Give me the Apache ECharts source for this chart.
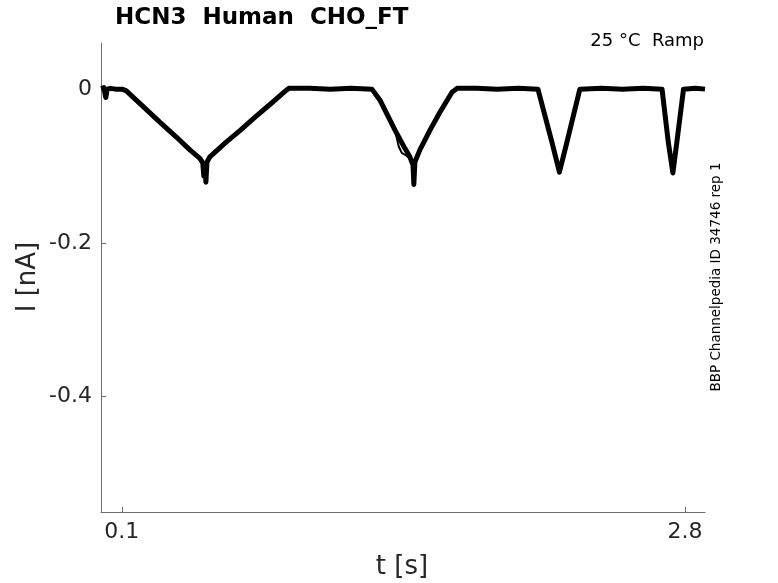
<!DOCTYPE html>
<html>
<head>
<meta charset="utf-8">
<script src="https://cdn.jsdelivr.net/npm/echarts@6/dist/echarts.min.js"></script>
<style>html,body{margin:0;padding:0;background:#fff}#c{width:778px;height:583px}</style>
</head>
<body>
<div id="c"></div>
<script>
// Main current trace: [t (s), I (nA)]
const traceMain = [
  [0.000, 0.001], [0.014, 0.002], [0.023, -0.011], [0.030, 0.000], [0.045, 0.001],
  [0.070, 0.000], [0.100, 0.000], [0.120, -0.002], [0.200, -0.022], [0.282, -0.043],
  [0.360, -0.062], [0.426, -0.079], [0.474, -0.090], [0.488, -0.096], [0.493, -0.113],
  [0.498, -0.098], [0.503, -0.121], [0.508, -0.095], [0.522, -0.088], [0.600, -0.069],
  [0.666, -0.054], [0.740, -0.036], [0.810, -0.020], [0.882, -0.003], [0.900, 0.001],
  [1.000, 0.001], [1.100, 0.000], [1.200, 0.001], [1.299, 0.000], [1.337, -0.014],
  [1.409, -0.053], [1.457, -0.077], [1.481, -0.088], [1.496, -0.099], [1.500, -0.124],
  [1.505, -0.095], [1.529, -0.079], [1.580, -0.052], [1.625, -0.030], [1.683, -0.004],
  [1.707, 0.001], [1.800, 0.001], [1.900, 0.000], [2.000, 0.001], [2.095, 0.000],
  [2.162, -0.069], [2.198, -0.108], [2.234, -0.069], [2.296, 0.000], [2.400, 0.001],
  [2.500, 0.000], [2.600, 0.001], [2.690, 0.000], [2.720, -0.069], [2.742, -0.109],
  [2.761, -0.069], [2.793, 0.000], [2.850, 0.001], [2.896, 0.000]
];
// Second sweep where it departs from the first (second ramp)
const traceAlt = [
  [1.409, -0.053], [1.428, -0.075], [1.442, -0.083], [1.461, -0.086], [1.481, -0.090], [1.496, -0.099]
];
const xTicks = [0.1, 2.8];
const yTicks = [0, -0.2, -0.4];

const chart = echarts.init(document.getElementById('c'));
const FONT = 'DejaVu Sans';
const TXT = '#262626';
chart.setOption({
  animation: false,
  backgroundColor: '#fff',
  grid: { left: 101, right: 73, top: 43, bottom: 71 },
  xAxis: {
    type: 'value', min: 0, max: 2.896,
    axisLine: { onZero: false, lineStyle: { color: '#6e6e6e', width: 1 } },
    axisTick: { inside: true, length: 5, customValues: xTicks, lineStyle: { color: '#6e6e6e' } },
    axisLabel: { customValues: xTicks, color: TXT, fontSize: 22, fontFamily: FONT, margin: 9,
      formatter: v => String(v) },
    splitLine: { show: false }
  },
  yAxis: {
    type: 'value', min: -0.55, max: 0.06,
    axisLine: { show: true, onZero: false, lineStyle: { color: '#6e6e6e', width: 1 } },
    axisTick: { show: true, inside: true, length: 5, customValues: yTicks, lineStyle: { color: '#6e6e6e' } },
    axisLabel: { customValues: yTicks, color: TXT, fontSize: 22, fontFamily: FONT, margin: 9,
      formatter: v => (v === 0 ? '0' : String(v)) },
    splitLine: { show: false }
  },
  series: [
    { type: 'line', data: traceMain, showSymbol: false, symbol: 'none',
      lineStyle: { color: '#000', width: 5, join: 'round' }, z: 3 },
    { type: 'line', data: traceAlt, showSymbol: false, symbol: 'none',
      lineStyle: { color: '#000', width: 2 }, z: 3 }
  ],
  graphic: [
    { type: 'text', x: 115, y: 18, style: { text: 'HCN3  Human  CHO_FT', font: 'bold 23px "DejaVu Sans"', fill: '#000', textAlign: 'left', textVerticalAlign: 'middle' } },
    { type: 'text', x: 704, y: 41, style: { text: '25 °C  Ramp', font: '18px "DejaVu Sans"', fill: '#000', textAlign: 'right', textVerticalAlign: 'middle' } },
    { type: 'text', x: 402, y: 567, style: { text: 't [s]', font: '26px "DejaVu Sans"', fill: TXT, textAlign: 'center', textVerticalAlign: 'middle' } },
    { type: 'text', x: 28, y: 277, rotation: Math.PI / 2, style: { text: 'I [nA]', font: '26px "DejaVu Sans"', fill: TXT, textAlign: 'center', textVerticalAlign: 'middle' } },
    { type: 'text', x: 716, y: 277, rotation: Math.PI / 2, style: { text: 'BBP Channelpedia ID 34746 rep 1', font: '13.5px "DejaVu Sans"', fill: '#000', textAlign: 'center', textVerticalAlign: 'middle' } }
  ]
});
</script>
</body>
</html>
